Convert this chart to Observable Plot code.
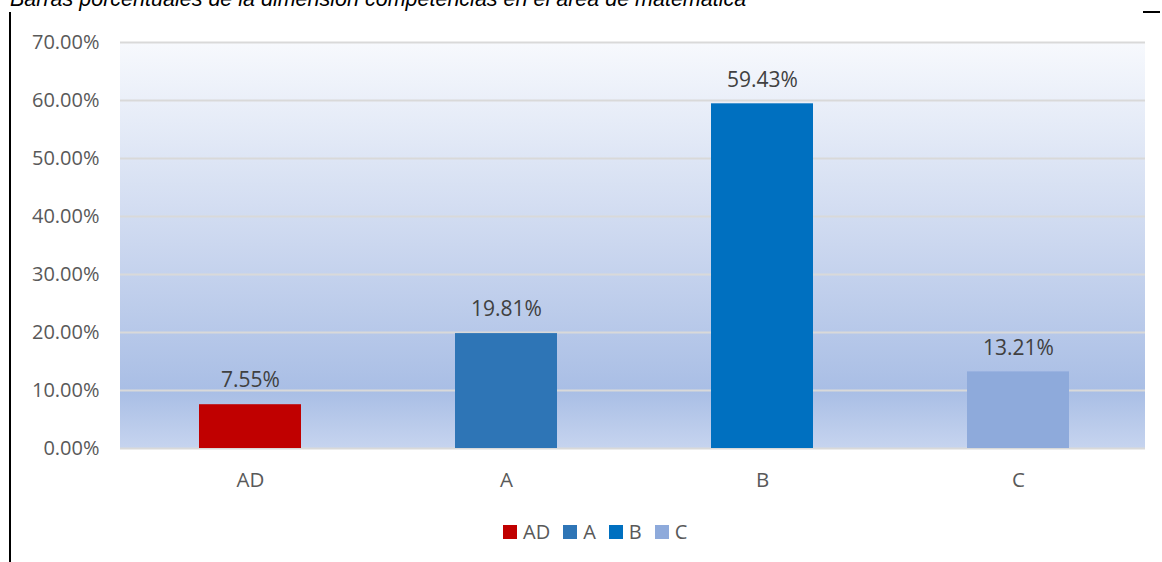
<!DOCTYPE html>
<html><head><meta charset="utf-8">
<script src="https://cdn.jsdelivr.net/npm/d3@7"></script>
<script src="https://cdn.jsdelivr.net/npm/@observablehq/plot@0.6"></script>
<style>
body{margin:0;background:#fff;}
#wrap{position:relative;width:1162px;height:562px;overflow:hidden;}
#title{position:absolute;left:10px;top:-13px;line-height:21.5px;font:italic 21.5px "Liberation Sans",Arial,sans-serif;color:#000;white-space:nowrap;}
#vline{position:absolute;left:9px;top:12px;width:2px;height:560px;background:#000;}
#hline{position:absolute;left:1143px;top:11px;width:17px;height:2px;background:#000;}
#legend{position:absolute;left:503px;top:518px;display:flex;align-items:center;font:20px "Open Sans",sans-serif;color:#595959;}
#legend .item{display:flex;align-items:center;margin-right:13px;}
#legend .sw{width:14px;height:14px;margin-right:6px;}
</style></head><body><div id="wrap"><div id="title"></div><div id="vline"></div><div id="hline"></div><div id="legend"></div></div>
<script>
const categories = ["AD", "A", "B", "C"];
const values = [0.0755, 0.1981, 0.5943, 0.1321];
const colors = ["#c00000", "#2e75b6", "#0070c0", "#8eaadb"];
const yTicks = [0, 0.1, 0.2, 0.3, 0.4, 0.5, 0.6, 0.7];
const titleText = "Barras porcentuales de la dimensión competencias en el área de matemática";

const data = categories.map((c, i) => ({cat: c, value: values[i]}));
const pct = d => (d * 100).toFixed(2) + "%";

function background(index, scales, values, dim) {
  const g = d3.create("svg:g");
  const grad = g.append("defs").append("linearGradient")
    .attr("id", "bgGrad").attr("x1", 0).attr("y1", 0).attr("x2", 0).attr("y2", 1);
  grad.append("stop").attr("offset", "0").attr("stop-color", "#f7f9fd");
  grad.append("stop").attr("offset", "0.5").attr("stop-color", "#cbd7ef");
  grad.append("stop").attr("offset", "0.86").attr("stop-color", "#a9bee5");
  grad.append("stop").attr("offset", "1").attr("stop-color", "#c6d4ef");
  g.append("rect")
    .attr("x", dim.marginLeft).attr("y", dim.marginTop)
    .attr("width", dim.width - dim.marginLeft - dim.marginRight)
    .attr("height", dim.height - dim.marginTop - dim.marginBottom)
    .attr("fill", "url(#bgGrad)");
  return g.node();
}

const chart = Plot.plot({
  width: 1162,
  height: 562,
  marginLeft: 120,
  marginRight: 17,
  marginTop: 42,
  marginBottom: 114,
  style: {fontFamily: "'Open Sans', sans-serif", background: "transparent", overflow: "visible"},
  x: {domain: categories, paddingInner: 0.6, paddingOuter: 0.3, align: 0.513, label: null},
  y: {domain: [0, 0.7], label: null},
  color: {domain: categories, range: colors},
  marks: [
    background,
    Plot.gridY(yTicks, {stroke: "#d9d9d9", strokeOpacity: 1, strokeWidth: 2}),
    Plot.barY(data, {x: "cat", y: "value", fill: "cat"}),
    Plot.text(data, {x: "cat", y: "value", text: d => pct(d.value), dy: -24, fill: "#404040", fontSize: 21}),
    Plot.axisY({ticks: yTicks, tickSize: 0, tickPadding: 21, tickFormat: pct, fontSize: 20, color: "#595959", label: null}),
    Plot.axisX({tickSize: 0, tickPadding: 24, fontSize: 20.5, color: "#595959", label: null})
  ]
});
chart.style.position = "absolute";
chart.style.left = "0";
chart.style.top = "0";
document.getElementById("wrap").prepend(chart);
document.getElementById("title").textContent = titleText;

const legend = document.getElementById("legend");
categories.forEach((c, i) => {
  const it = document.createElement("div");
  it.className = "item";
  const sw = document.createElement("div");
  sw.className = "sw";
  sw.style.background = colors[i];
  const t = document.createElement("span");
  t.textContent = c;
  it.append(sw, t);
  legend.append(it);
});
</script></body></html>
